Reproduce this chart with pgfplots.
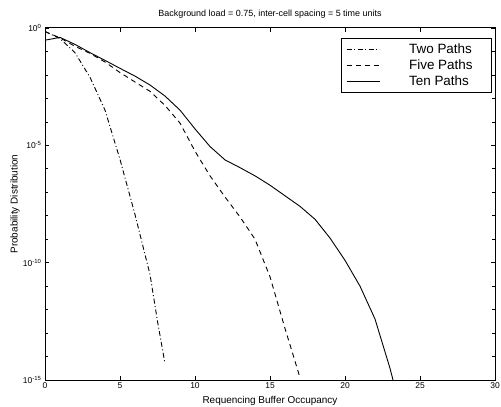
\documentclass[border=0pt]{standalone}
\usepackage{fontspec}
\setmainfont{Liberation Sans}
\usepackage{pgfplots}
\pgfplotsset{compat=1.18}
\begin{document}
\begin{tikzpicture}
\path[use as bounding box] (-45bp,-27bp) rectangle (456bp,380bp);
\begin{axis}[
  scale only axis, width=450bp, height=352bp,
  at={(0,0)}, anchor=south west,
  xmin=0, xmax=30, ymode=log, ymin=1e-15, ymax=1,
  xtick={0,5,10,15,20,25,30},
  ytick={1,1e-5,1e-10,1e-15},
  yticklabels={10\textsuperscript{0},10\textsuperscript{-5},10\textsuperscript{-10},10\textsuperscript{-15}},
  minor ytick={1e-1,1e-2,1e-3,1e-4,1e-6,1e-7,1e-8,1e-9,1e-11,1e-12,1e-13,1e-14},
  tick align=inside, major tick length=4bp, minor tick length=3bp,
  tick style={black, line width=0.7bp},
  axis line style={line width=1bp},
  ticklabel style={font=\fontsize{8.5}{10}\selectfont},
  /pgf/number format/assume math mode=true,
  xticklabel style={yshift=1bp},
  xlabel={Requencing Buffer Occupancy},
  ylabel={Probability Distribution},
  xlabel style={font=\fontsize{9}{10}\selectfont},
  ylabel style={font=\fontsize{9}{10}\selectfont},
  every axis y label/.style={at={(0,0.5)}, xshift=-30bp, rotate=90, anchor=center},
  every axis x label/.style={at={(0.5,0)}, yshift=-21bp, anchor=center},
  title={Background load = 0.75, inter-cell spacing = 5 time units},
  every axis title/.style={at={(0.5,1)}, yshift=14bp, anchor=center},
  title style={font=\fontsize{9}{10}\selectfont},
  legend style={at={(1,1)}, anchor=north east, xshift=-3bp, yshift=-10bp,
    draw=black, line width=0.7bp, font=\fontsize{13.5}{14}\selectfont,
    row sep=1.5bp, inner xsep=5bp, inner ysep=4bp,
    nodes={inner xsep=3bp, inner ysep=1.6bp},
    /tikz/every odd column/.append style={column sep=26bp}},
  legend cell align=left,
  legend image code/.code={\draw[#1, line width=0.8bp] (0bp,0bp) -- (33bp,0bp);},
]
\addplot[black, line width=0.9bp, dash pattern=on 5bp off 2.5bp on 1bp off 2.5bp] coordinates {
 (0,0.708) (1,0.355) (2,0.0891) (3,7.94e-3) (4,3.16e-4) (5,2.51e-6)
 (6,1.12e-8) (7,3.16e-11) (7.5,3.16e-13) (8,5.01e-15)
};
\addlegendentry{Two Paths\hspace*{11bp}}
\addplot[black, line width=0.9bp, dash pattern=on 5bp off 4bp] coordinates {
 (0,0.708) (1,0.380) (2,0.166) (3,0.0832) (4,0.0355) (5,0.0126)
 (6,5.01e-3) (7,2.0e-3) (8,5.01e-4) (9,8.91e-5) (10,5.62e-6) (11,5.01e-7)
 (12,6.31e-8) (13,8.91e-9) (14,1e-9) (15,2.51e-11) (16,1.58e-13) (17,1.26e-15)
};
\addlegendentry{Five Paths\hspace*{11bp}}
\addplot[black, line width=0.9bp] coordinates {
 (0,0.302) (1,0.398) (2,0.2) (3,0.0891) (4,0.0417) (5,0.0191)
 (6,8.91e-3) (7,3.72e-3) (8,1.26e-3) (9,3.16e-4) (10,5.01e-5) (11,8.91e-6)
 (12,2.4e-6) (13,1.12e-6) (14,5.01e-7) (15,2.0e-7) (16,7.08e-8) (17,2.51e-8)
 (18,7.08e-9) (19,1.12e-9) (20,1.26e-10) (21,1e-11) (22,3.98e-13)
 (23,3.16e-15) (23.2,1e-15)
};
\addlegendentry{Ten Paths\hspace*{11bp}}
\end{axis}
\end{tikzpicture}
\end{document}
